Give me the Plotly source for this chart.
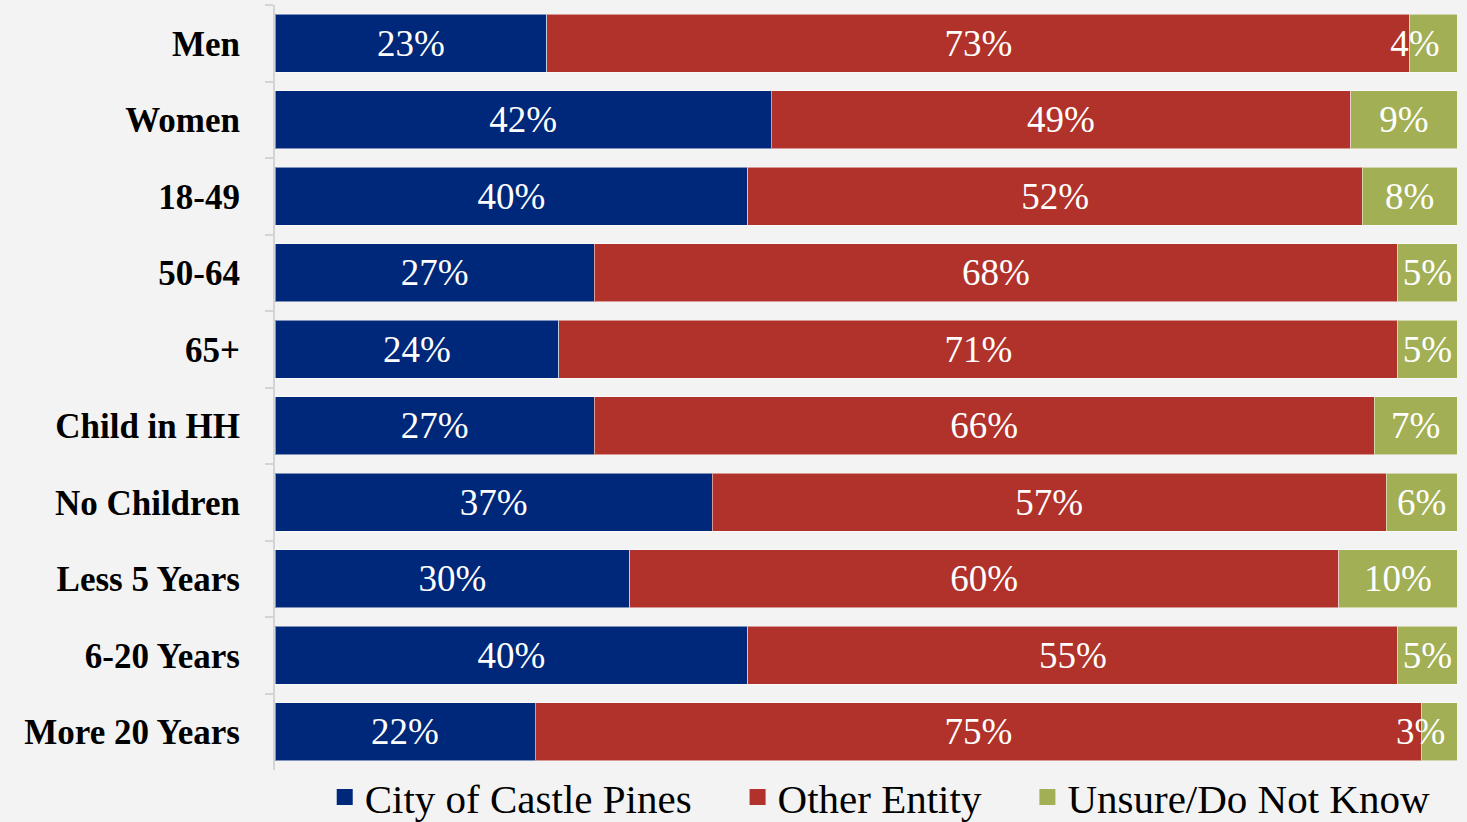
import plotly.graph_objects as go

categories = ["Men", "Women", "18-49", "50-64", "65+", "Child in HH",
              "No Children", "Less 5 Years", "6-20 Years", "More 20 Years"]
city = [23, 42, 40, 27, 24, 27, 37, 30, 40, 22]
other = [73, 49, 52, 68, 71, 66, 57, 60, 55, 75]
unsure = [4, 9, 8, 5, 5, 7, 6, 10, 5, 3]

series = [
    ("City of Castle Pines", city, "#00287A"),
    ("Other Entity", other, "#B0322A"),
    ("Unsure/Do Not Know", unsure, "#A2AF55"),
]

FONT = "Liberation Serif"
NB = "\u00a0"


def label(v):
    # narrow segments: keep the label from running past the bar end
    return f"{v}%" + (NB * 4 if v < 5 else "")


fig = go.Figure()
for name, vals, color in series:
    fig.add_trace(go.Bar(
        y=categories, x=vals, name=name, orientation="h", showlegend=False,
        marker=dict(color=color, line=dict(color="rgba(255,255,255,0.5)", width=1)),
        text=[label(v) for v in vals], textposition="inside", textangle=0,
        insidetextanchor="middle", constraintext="none",
        textfont=dict(family=FONT, size=37, color="white"),
        cliponaxis=False,
    ))
# legend entries with larger square swatches
gaps = ["    ", "    ", ""]
for (name, vals, color), gap in zip(series, gaps):
    fig.add_trace(go.Scatter(
        x=[None], y=[None], mode="markers", name=name + gap,
        marker=dict(symbol="square", size=20, color=color),
    ))

fig.update_layout(
    barmode="stack", bargap=0.24,
    width=1467, height=822,
    margin=dict(l=275, r=10, t=5, b=52, autoexpand=False),
    paper_bgcolor="#f3f3f3", plot_bgcolor="#f3f3f3",
    font=dict(family=FONT, color="black"),
    showlegend=True,
    legend=dict(orientation="h", x=0.982, xanchor="right", y=0.008, yanchor="top",
                font=dict(family=FONT, size=41, color="black"),
                bgcolor="rgba(0,0,0,0)", traceorder="normal", itemwidth=30,
                tracegroupgap=0),
    xaxis=dict(range=[0, 100], visible=False, fixedrange=True),
    yaxis=dict(autorange="reversed", showline=True, linecolor="#d4d4d4", linewidth=2,
               ticks="outside", tickson="boundaries", ticklen=8, tickcolor="#d4d4d4",
               tickwidth=2, ticklabelstandoff=26,
               tickfont=dict(family=FONT, size=35, color="black", weight="bold"),
               showgrid=False),
)

fig.write_html("out.html", config={"displayModeBar": False},
               post_script="document.body.style.margin='0';")
